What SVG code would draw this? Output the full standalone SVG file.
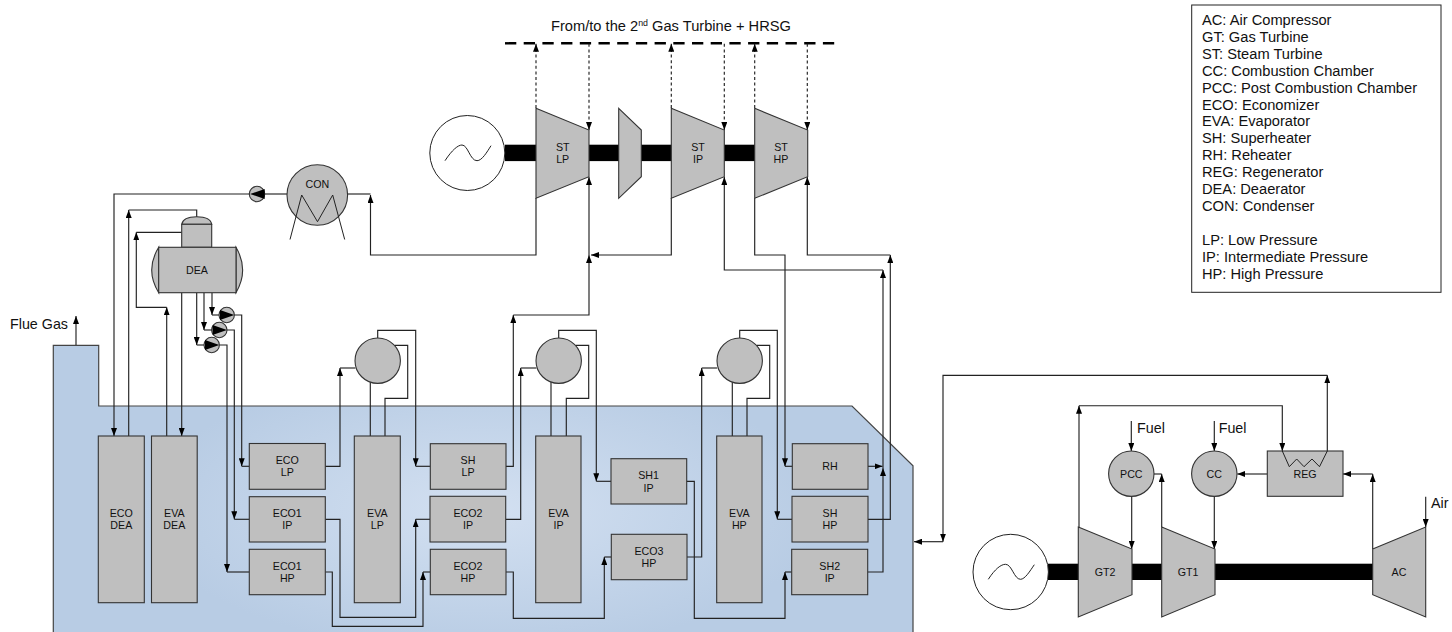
<svg xmlns="http://www.w3.org/2000/svg" width="1452" height="632" viewBox="0 0 1452 632">
<style>
text{font-family:"Liberation Sans",Arial,sans-serif;fill:#111}
.n{font-size:10.67px;text-anchor:middle}
.l{font-size:14.3px}
.k{font-size:14.67px}
.b{fill:#bfbfbf;stroke:#333;stroke-width:1.1}
.c path{fill:none;stroke:#222;stroke-width:1.15}
.c .a{marker-end:url(#arr)}
.c .d{stroke-dasharray:3 2.6}
.w{fill:#fff;stroke:#222;stroke-width:1}
.s{fill:none;stroke:#222;stroke-width:1}
</style>
<defs>
<marker id="arr" viewBox="0 0 8 6" refX="8" refY="3" markerWidth="8" markerHeight="6" markerUnits="userSpaceOnUse" orient="auto"><path d="M0 0L8 3L0 6z" fill="#000"/></marker>
<radialGradient id="hg" gradientUnits="userSpaceOnUse" cx="483" cy="510" r="340" gradientTransform="translate(0 510) scale(1 .42) translate(0 -510)"><stop offset="0" stop-color="#d3e0f1"/><stop offset="1" stop-color="#b8cce4"/></radialGradient>
</defs>
<g id="housing"><path d="M53.3 640V345.3H98.7V406H852L913 465.7V640z" fill="url(#hg)" stroke="#444" stroke-width="1.2"/></g>
<g id="shafts" fill="#000">
<rect x="505" y="144.7" width="250" height="16.4"/>
<rect x="1048" y="563.7" width="326" height="16.3"/>
</g>
<g class="c" id="connectors">
<path class="a" d="M76 345V316"/>
<path d="M287 194H265"/>
<path class="a" d="M250 194H114V436"/>
<path class="a" d="M128.700 436V210"/><path d="M128.700 210H196.700V217"/>
<path class="a" d="M166.700 436V307.300"/><path class="a" d="M166.700 307.300H136.300V232.300"/><path d="M136.300 232.300H181.700"/>
<path class="a" d="M181.700 292.700V436"/>
<path class="a" d="M212 292.700V315"/><path d="M212 315H219"/>
<path class="a" d="M204 292.700V330"/><path d="M204 330H212"/>
<path class="a" d="M196.700 292.700V345"/><path d="M196.700 345H204"/>
<path class="a" d="M234.400 315H241.700V466.300"/><path d="M241.700 466.300H249.300"/>
<path class="a" d="M227 330H234.300V519.300"/><path d="M234.300 519.300H249.300"/>
<path class="a" d="M219.400 345H227V572"/><path d="M227 572H249.300"/>
<path class="a" d="M377.700 338V330.300H415.700V466.300"/><path d="M415.700 466.300H430.300"/>
<path d="M395 345.300H407.700V398.300H385V436"/>
<path d="M370.300 380V436"/>
<path class="a" d="M325.300 466.300H340V368"/><path d="M340 368H355.500"/>
<path class="a" d="M325.300 519.300H340V617.300H415.700V519.300"/><path d="M415.700 519.300H430"/>
<path class="a" d="M325.300 572H332.300V626.300H423V572"/><path d="M423 572H430.300"/>
<path class="a" d="M506 466.300H513.300V315"/><path class="a" d="M513.300 315H589V255"/><path class="a" d="M589 255V177"/>
<path class="a" d="M558.700 338V330.300H596.300V481.300"/><path d="M596.300 481.300H611"/>
<path d="M576 345.300H588.700V398.300H566.300V436"/>
<path d="M551 380V436"/>
<path class="a" d="M505.700 519.300H520.700V368"/><path d="M520.700 368H536.500"/>
<path class="a" d="M506 572H513.300V618.300H604.300V557"/><path d="M604.300 557H611.300"/>
<path class="a" d="M686.700 481.300H694.300V618.300H785V572"/><path d="M785 572H791.700"/>
<path class="a" d="M687 557H701.700V368"/><path d="M701.700 368H717.300"/>
<path class="a" d="M739.700 338V330.300H777.300V519.300"/><path d="M777.300 519.300H792"/>
<path d="M757 345.300H769.700V398.300H747V436"/>
<path d="M732.300 380V436"/>
<path class="a" d="M671.300 198V255H591"/>
<path class="a" d="M536 198V255H370.500V195"/><path d="M370.500 194H347"/>
<path class="a" d="M754.700 198V255H785V466.300"/><path d="M785 466.300H792.300"/>
<path class="a" d="M868 466.300H882.500"/>
<path class="a" d="M867.700 572H883V468"/><path class="a" d="M883 468V270"/><path class="a" d="M883 270H724.300V177"/>
<path class="a" d="M868 519.300H890.300V255"/><path class="a" d="M890.300 255H807.300V177"/>
<path d="M505 43.300H835" style="stroke:#000;stroke-width:2.4;stroke-dasharray:11.3 7.400"/>
<path class="a d" d="M536 108V43.800"/>
<path class="a d" d="M589 43.800V130"/>
<path class="a d" d="M671.300 108V43.800"/>
<path class="a d" d="M724.300 43.800V130"/>
<path class="a d" d="M754.700 108V43.800"/>
<path class="a d" d="M807.300 43.800V130"/>
<path class="a" d="M1131.300 421V451"/>
<path class="a" d="M1214.300 421V451"/>
<path class="a" d="M1425.700 496.700V527"/>
<path class="a" d="M1131.700 496.400V549"/>
<path class="a" d="M1214.300 496.400V549"/>
<path class="a" d="M1161.700 527V474"/><path d="M1161.700 474H1154"/>
<path class="a" d="M1079 527V405.700"/><path class="a" d="M1079 405.700H1282.300V451"/>
<path class="a" d="M1327.300 451V375.300"/><path class="a" d="M1327.300 375.300H943V541.700"/><path class="a" d="M943 541.700H914"/>
<path class="a" d="M1267.300 474H1237.300"/>
<path class="a" d="M1372.700 549V474"/><path class="a" d="M1372.700 474H1343"/>
</g>
<g id="gen-st"><circle class="w" cx="467.300" cy="153" r="37.500"/><path class="s" d="M445 160.700C452 150 458 145 462 145C468 145 470 160.700 477 160.700C482 160.700 487 152 491 145.700"/></g>
<g id="st-lp"><path class="b" d="M536 108.300L589 130V176.700L536 198.300z"/><text class="n" x="562.700" y="150.500">ST</text><text class="n" x="562.700" y="163">LP</text></g>
<g id="clutch"><path class="b" d="M618.700 108.300L641.300 130V176.700L618.700 198.300z"/></g>
<g id="st-ip"><path class="b" d="M671.300 108.300L724.300 130V176.700L671.300 198.300z"/><text class="n" x="698" y="150.500">ST</text><text class="n" x="698" y="163">IP</text></g>
<g id="st-hp"><path class="b" d="M754.700 108.300L807.700 130V176.700L754.700 198.300z"/><text class="n" x="781" y="150.500">ST</text><text class="n" x="781" y="163">HP</text></g>
<g id="con"><circle class="b" cx="317.300" cy="195" r="30.300"/><path class="s" d="M290 239.500L301.700 195L317.500 221.700L332.700 195L344.700 239.500"/><text class="n" x="317.300" y="188">CON</text></g>
<g id="pump-con"><circle class="b" cx="257" cy="194" r="7.700"/><path d="M250 194L264.700 189V199z" fill="#000"/></g>
<g id="dea"><path class="b" d="M158.700 247.300Q144.700 270 158.700 292.700z"/><path class="b" d="M236 247.300Q249.300 270 236 292.700z"/><path class="b" d="M181.700 224.300Q183 216.700 196.700 216.700Q210.500 216.700 211.700 224.300z"/><rect class="b" x="181.700" y="224.300" width="30" height="23"/><rect class="b" x="158.700" y="247.300" width="77.300" height="45.400"/><text class="n" x="197" y="273.500">DEA</text></g>
<g id="pump-1"><circle class="b" cx="226.700" cy="315" r="7.700"/><path d="M234.300 315L220 310V320z" fill="#000"/></g>
<g id="pump-2"><circle class="b" cx="219.300" cy="330" r="7.700"/><path d="M226.900 330L212.600 325V335z" fill="#000"/></g>
<g id="pump-3"><circle class="b" cx="211.700" cy="345" r="7.700"/><path d="M219.300 345L205 340V350z" fill="#000"/></g>
<g id="drum-lp"><circle class="b" cx="377.700" cy="360.700" r="22.700"/></g>
<g id="drum-ip"><circle class="b" cx="558.700" cy="360.700" r="22.700"/></g>
<g id="drum-hp"><circle class="b" cx="739.700" cy="360.700" r="22.700"/></g>
<g id="eco-dea"><rect class="b" x="98.300" y="436" width="46" height="166.700"/><text class="n" x="121.300" y="517">ECO</text><text class="n" x="121.300" y="529">DEA</text></g>
<g id="eva-dea"><rect class="b" x="151.500" y="436" width="45.700" height="166.700"/><text class="n" x="174.300" y="517">EVA</text><text class="n" x="174.300" y="529">DEA</text></g>
<g id="eco-lp"><rect class="b" x="249.300" y="443.500" width="76" height="45.800"/><text class="n" x="287.300" y="464">ECO</text><text class="n" x="287.300" y="476">LP</text></g>
<g id="eco1-ip"><rect class="b" x="249.300" y="496.700" width="76" height="45.300"/><text class="n" x="287.300" y="517">ECO1</text><text class="n" x="287.300" y="529">IP</text></g>
<g id="eco1-hp"><rect class="b" x="249.300" y="549.300" width="76" height="45.400"/><text class="n" x="287.300" y="570">ECO1</text><text class="n" x="287.300" y="582">HP</text></g>
<g id="eva-lp"><rect class="b" x="354.300" y="436" width="46" height="166.700"/><text class="n" x="377.300" y="517">EVA</text><text class="n" x="377.300" y="529">LP</text></g>
<g id="sh-lp"><rect class="b" x="430.300" y="443.700" width="75.700" height="45.600"/><text class="n" x="468" y="464">SH</text><text class="n" x="468" y="476">LP</text></g>
<g id="eco2-ip"><rect class="b" x="430" y="496.300" width="75.700" height="45.700"/><text class="n" x="468" y="517">ECO2</text><text class="n" x="468" y="529">IP</text></g>
<g id="eco2-hp"><rect class="b" x="430.300" y="549.300" width="75.700" height="45.400"/><text class="n" x="468" y="570">ECO2</text><text class="n" x="468" y="582">HP</text></g>
<g id="eva-ip"><rect class="b" x="535.700" y="436" width="45.300" height="166.700"/><text class="n" x="558.500" y="517">EVA</text><text class="n" x="558.500" y="529">IP</text></g>
<g id="sh1-ip"><rect class="b" x="611" y="458.700" width="75.700" height="45.300"/><text class="n" x="648.500" y="479">SH1</text><text class="n" x="648.500" y="491.500">IP</text></g>
<g id="eco3-hp"><rect class="b" x="611.300" y="534.300" width="75.700" height="45.400"/><text class="n" x="649" y="554.500">ECO3</text><text class="n" x="649" y="567">HP</text></g>
<g id="eva-hp"><rect class="b" x="716.700" y="436" width="45.300" height="166.700"/><text class="n" x="739.300" y="517">EVA</text><text class="n" x="739.300" y="529">HP</text></g>
<g id="rh"><rect class="b" x="792.300" y="443.700" width="75.700" height="45.600"/><text class="n" x="830" y="470">RH</text></g>
<g id="sh-hp"><rect class="b" x="792" y="496.300" width="76" height="45.700"/><text class="n" x="830" y="517">SH</text><text class="n" x="830" y="529">HP</text></g>
<g id="sh2-ip"><rect class="b" x="791.700" y="549.300" width="76" height="45.400"/><text class="n" x="829.700" y="570">SH2</text><text class="n" x="829.700" y="582">IP</text></g>
<g id="gen-gt"><circle class="w" cx="1010.700" cy="572" r="37.700"/><path class="s" d="M988.300 579.300C995 569 1001 564.300 1005.500 564.300C1012 564.300 1014 579.300 1020.500 579.300C1025 579.300 1030 571 1034.300 564.700"/></g>
<g id="gt2"><path class="b" d="M1078.300 527L1132 549V594.700L1078.300 617z"/><text class="n" x="1105" y="576">GT2</text></g>
<g id="gt1"><path class="b" d="M1161.700 527L1215 549V594.700L1161.700 617z"/><text class="n" x="1188" y="576">GT1</text></g>
<g id="ac"><path class="b" d="M1372.700 549L1425.700 527V617L1372.700 594.700z"/><text class="n" x="1399" y="576">AC</text></g>
<g id="pcc"><circle class="b" cx="1131.300" cy="473.700" r="22.700"/><text class="n" x="1131.300" y="477.500">PCC</text></g>
<g id="cc"><circle class="b" cx="1214.300" cy="473.700" r="22.700"/><text class="n" x="1214.300" y="477.500">CC</text></g>
<g id="reg"><rect class="b" x="1267.300" y="451" width="75.700" height="45.300"/><path class="s" d="M1282.300 451L1289.300 466.700L1296.700 459L1304 466.700L1312 459L1319.500 466.700L1327.300 451"/><text class="n" x="1305" y="478">REG</text></g>
<g id="labels">
<text class="l" x="10" y="328.500">Flue Gas</text>
<text class="l" x="1137" y="432.700">Fuel</text>
<text class="l" x="1218.700" y="432.700">Fuel</text>
<text class="l" x="1431" y="507.700">Air</text>
<text class="k" x="671" y="31" text-anchor="middle">From/to the 2<tspan font-size="8.800" dy="-5">nd</tspan><tspan dy="5"> Gas Turbine + HRSG</tspan></text>
</g>
<g id="legend">
<rect x="1191.700" y="5" width="249.300" height="287.300" fill="#fff" stroke="#222"/>
<text class="k" x="1202" y="25">AC: Air Compressor</text>
<text class="k" x="1202" y="41.900">GT: Gas Turbine</text>
<text class="k" x="1202" y="58.800">ST: Steam Turbine</text>
<text class="k" x="1202" y="75.700">CC: Combustion Chamber</text>
<text class="k" x="1202" y="92.600">PCC: Post Combustion Chamber</text>
<text class="k" x="1202" y="109.500">ECO: Economizer</text>
<text class="k" x="1202" y="126.400">EVA: Evaporator</text>
<text class="k" x="1202" y="143.300">SH: Superheater</text>
<text class="k" x="1202" y="160.200">RH: Reheater</text>
<text class="k" x="1202" y="177.100">REG: Regenerator</text>
<text class="k" x="1202" y="194">DEA: Deaerator</text>
<text class="k" x="1202" y="210.900">CON: Condenser</text>
<text class="k" x="1202" y="244.700">LP: Low Pressure</text>
<text class="k" x="1202" y="261.600">IP: Intermediate Pressure</text>
<text class="k" x="1202" y="278.500">HP: High Pressure</text>
</g>
</svg>
